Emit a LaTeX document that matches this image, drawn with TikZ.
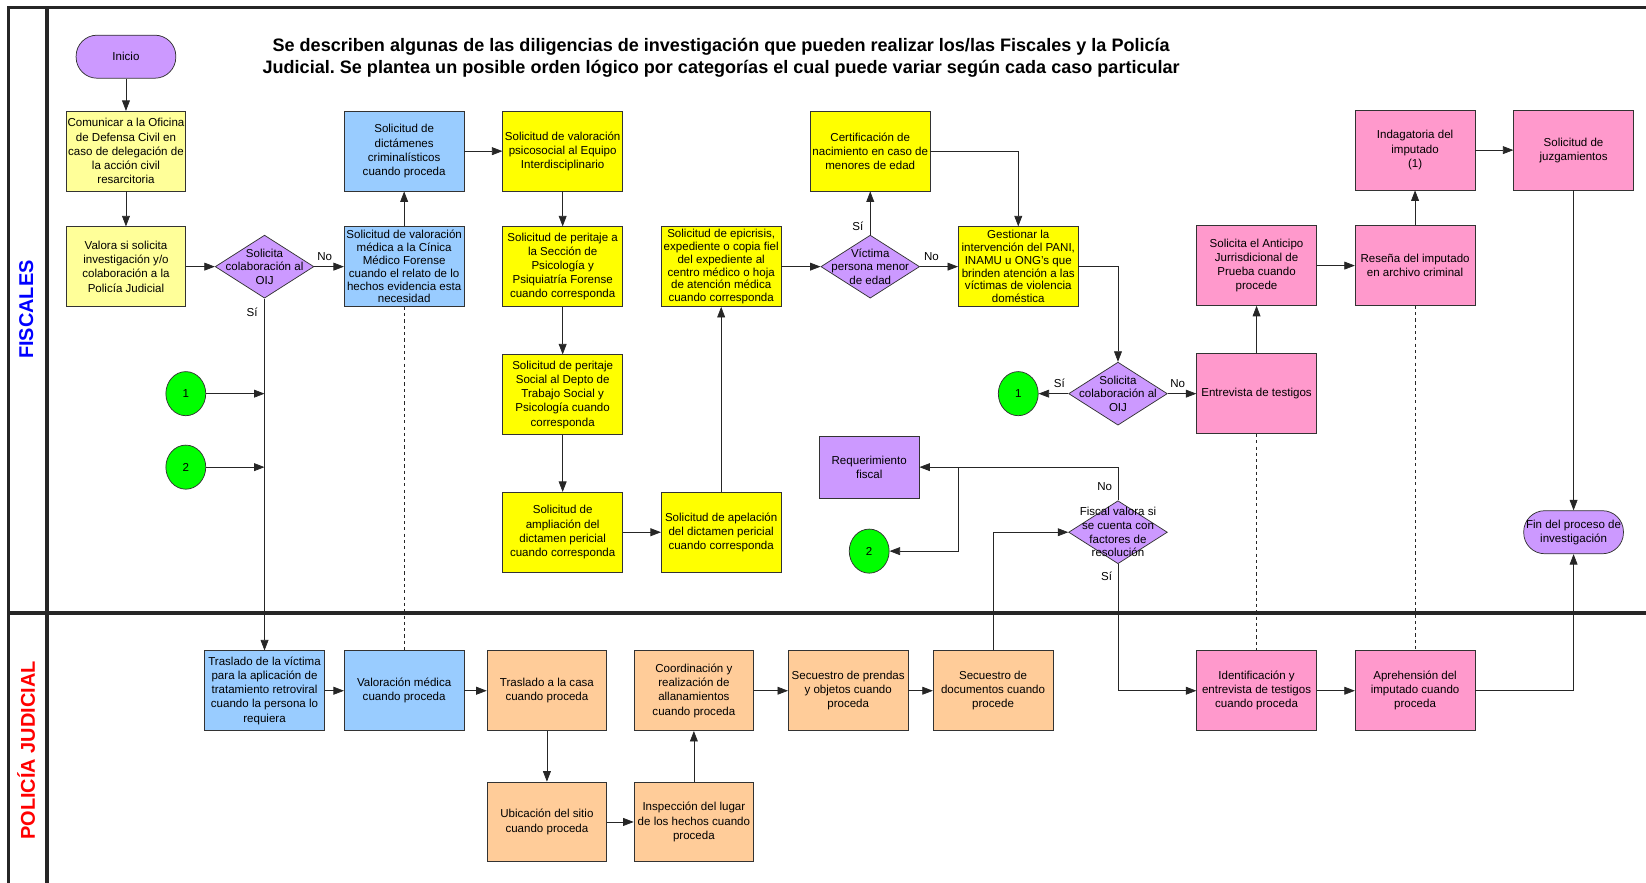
\documentclass[tikz,border=0pt]{standalone}
\usepackage{fontspec}
\setmainfont{Liberation Sans}
\usetikzlibrary{positioning, shapes.geometric, arrows.meta}
\frenchspacing

\definecolor{lila}{HTML}{CC99FF}
\definecolor{crema}{HTML}{FFFF99}
\definecolor{amarillo}{HTML}{FFFF00}
\definecolor{celeste}{HTML}{99CCFF}
\definecolor{durazno}{HTML}{FFCC99}
\definecolor{rosado}{HTML}{FF99CC}
\definecolor{verde}{HTML}{00FF00}

\tikzset{
  paso/.style={rectangle, draw=black!80, line width=0.7pt, minimum width=114pt, minimum height=76pt,
    inner sep=0pt, align=center, font=\fontsize{11}{13.5}\selectfont},
  apretado/.style={font=\fontsize{11}{12.2}\selectfont},
  decision/.style={diamond, draw=black!80, fill=lila, line width=0.7pt, minimum width=94pt,
    minimum height=60pt, inner sep=0pt},
  dtexto/.style={align=center, inner sep=0pt, font=\fontsize{11}{13}\selectfont},
  terminal/.style={rectangle, rounded corners=20pt, draw=black!80, fill=lila, line width=0.7pt,
    minimum width=95pt, minimum height=41pt, inner sep=0pt, align=center, font=\fontsize{11}{13}\selectfont},
  conector/.style={ellipse, draw=black!80, fill=verde, line width=0.7pt, minimum width=38pt,
    minimum height=42pt, inner sep=0pt, font=\fontsize{11}{13}\selectfont},
  rotulo/.style={font=\fontsize{11}{13}\selectfont},
  marco/.style={line width=3.5pt},
  carril/.style={rotate=90, font=\bfseries\fontsize{19}{20}\selectfont},
  titulo/.style={align=center, font=\bfseries\fontsize{17.2}{21}\selectfont}
}

\begin{document}
\begin{tikzpicture}[x=1pt, y=-1pt, >={Triangle[length=10pt, width=7.5pt]}, line width=0.7pt, draw=black!85]
  \useasboundingbox (0,0) rectangle (1568,841);
  % marco y carriles
  \draw[marco] (8,841) -- (8,7) -- (1568,7);
  \draw[marco] (45,7) -- (45,841);
  \draw[marco] (8,584) -- (1568,584);
  \node[carril, text=blue] (fis) at (25,295) {FISCALES};
  \node[carril, text=red] (pol) at (25,715) {POLICÍA JUDICIAL};
  \node[titulo] (tit) at (687,55) {Se describen algunas de las diligencias de investigación que pueden realizar los/las Fiscales y la Policía\\
    Judicial. Se plantea un posible orden lógico por categorías el cual puede variar según cada caso particular};

  % Fiscales
  \node[terminal] (inicio) at (120,54) {Inicio};
  \node[paso, fill=crema] (comun) [node distance=90pt, below of=inicio] {Comunicar a la Oficina\\de Defensa Civil en\\caso de delegación de\\la acción civil\\resarcitoria};
  \node[paso, fill=crema] (valora) [node distance=110pt, below of=comun] {Valora si solicita\\investigación y/o\\colaboración a la\\Policía Judicial};
  \node[decision, label={[dtexto, name=d1t]center:{Solicita\\colaboración al\\OIJ}}] (d1) [node distance=132pt, right of=valora] {};
  \node[paso, apretado, fill=celeste] (vmed) [node distance=133pt, right of=d1] {Solicitud de valoración\\médica a la Cínica\\Médico Forense\\cuando el relato de lo\\hechos evidencia esta\\necesidad};
  \node[paso, fill=celeste] (dict) [node distance=110pt, above of=vmed] {Solicitud de\\dictámenes\\criminalísticos\\cuando proceda};
  \node[paso, fill=amarillo] (psico) [node distance=151pt, right of=dict] {Solicitud de valoración\\psicosocial al Equipo\\Interdisciplinario};
  \node[paso, fill=amarillo] (perpsi) [node distance=110pt, below of=psico] {Solicitud de peritaje a\\la Sección de\\Psicología y\\Psiquiatría Forense\\cuando corresponda};
  \node[paso, fill=amarillo] (persoc) [node distance=122pt, below of=perpsi] {Solicitud de peritaje\\Social al Depto de\\Trabajo Social y\\Psicología cuando\\corresponda};
  \node[paso, fill=amarillo] (ampl) [node distance=131pt, below of=persoc] {Solicitud de\\ampliación del\\dictamen pericial\\cuando corresponda};
  \node[paso, fill=amarillo] (apel) [node distance=151pt, right of=ampl] {Solicitud de apelación\\del dictamen pericial\\cuando corresponda};
  \node[paso, apretado, fill=amarillo] (epic) [node distance=253pt, above of=apel] {Solicitud de epicrisis,\\expediente o copia fiel\\del expediente al\\centro médico o hoja\\de atención médica\\cuando corresponda};
  \node[decision, label={[dtexto, name=d2t]center:{Víctima\\persona menor\\de edad}}] (d2) [node distance=142pt, right of=epic] {};
  \node[paso, fill=amarillo] (cert) [node distance=110pt, above of=d2] {Certificación de\\nacimiento en caso de\\menores de edad};
  \node[paso, apretado, fill=amarillo] (gest) [node distance=141pt, right of=d2] {Gestionar la\\intervención del PANI,\\INAMU u ONG’s que\\brinden atención a las\\víctimas de violencia\\doméstica};
  \node[decision, label={[dtexto, name=d3t]center:{Solicita\\colaboración al\\OIJ}}] (d3) at (1065,375) {};
  \node[conector] (c1b) [node distance=95pt, left of=d3] {1};
  \node[paso, fill=rosado] (entr) [node distance=132pt, right of=d3] {Entrevista de testigos};
  \node[paso, fill=rosado] (antic) [node distance=122pt, above of=entr] {Solicita el Anticipo\\Jurrisdicional de\\Prueba cuando\\procede};
  \node[paso, fill=rosado] (resena) [node distance=151pt, right of=antic] {Reseña del imputado\\en archivo criminal};
  \node[paso, fill=rosado] (indag) [node distance=110pt, above of=resena] {Indagatoria del\\imputado\\(1)};
  \node[paso, fill=rosado] (juzg) [node distance=151pt, right of=indag] {Solicitud de\\juzgamientos};
  \node[terminal] (fin) [node distance=364pt, below of=juzg] {Fin del proceso de\\investigación};
  \node[paso, fill=lila, minimum width=95pt, minimum height=59pt] (req) at (828,445) {Requerimiento\\fiscal};
  \node[decision, label={[dtexto, name=d4t]center:{Fiscal valora si\\se cuenta con\\factores de\\resolución}}] (d4) at (1065,507) {};
  \node[conector] (c2b) at (828,525) {2};
  \node[conector] (c1a) at (177,375) {1};
  \node[conector] (c2a) at (177,445) {2};

  % Policia Judicial
  \node[paso, fill=celeste] (trasv) at (252,658) {Traslado de la víctima\\para la aplicación de\\tratamiento retroviral\\cuando la persona lo\\requiera};
  \node[paso, fill=celeste] (vmpj) [node distance=133pt, right of=trasv] {Valoración médica\\cuando proceda};
  \node[paso, fill=durazno] (casa) [node distance=136pt, right of=vmpj] {Traslado a la casa\\cuando proceda};
  \node[paso, fill=durazno] (ubic) [node distance=125pt, below of=casa] {Ubicación del sitio\\cuando proceda};
  \node[paso, fill=durazno] (insp) [node distance=140pt, right of=ubic] {Inspección del lugar\\de los hechos cuando\\proceda};
  \node[paso, fill=durazno] (allan) [node distance=125pt, above of=insp] {Coordinación y\\realización de\\allanamientos\\cuando proceda};
  \node[paso, fill=durazno] (secp) [node distance=147pt, right of=allan] {Secuestro de prendas\\y objetos cuando\\proceda};
  \node[paso, fill=durazno] (secd) [node distance=138pt, right of=secp] {Secuestro de\\documentos cuando\\procede};
  \node[paso, fill=rosado] (ident) at (1197,658) {Identificación y\\entrevista de testigos\\cuando proceda};
  \node[paso, fill=rosado] (apre) [node distance=151pt, right of=ident] {Aprehensión del\\imputado cuando\\proceda};

  \path[->, draw=black!85]
  (inicio) edge (comun)
  (comun) edge (valora)
  (valora) edge (d1)
  (d1) edge node[rotulo, above=2pt, pos=0.35] {No} (vmed)
  (d1) edge node[rotulo, left=3pt, pos=0.04] {Sí} (trasv)
  (vmed) edge (dict)
  (dict) edge (psico)
  (psico) edge (perpsi)
  (perpsi) edge (persoc)
  (persoc) edge (ampl)
  (ampl) edge (apel)
  (apel) edge (epic)
  (epic) edge (d2)
  (d2) edge node[rotulo, left=3pt, pos=0.2] {Sí} (cert)
  (d2) edge node[rotulo, above=2pt, pos=0.3] {No} (gest)
  (d3) edge node[rotulo, above=2pt, pos=0.3] {Sí} (c1b)
  (d3) edge node[rotulo, above=2pt, pos=0.35] {No} (entr)
  (entr) edge (antic)
  (antic) edge (resena)
  (resena) edge (indag)
  (indag) edge (juzg)
  (juzg) edge (fin)
  (trasv) edge (vmpj)
  (vmpj) edge (casa)
  (casa) edge (ubic)
  (ubic) edge (insp)
  (insp) edge (allan)
  (allan) edge (secp)
  (secp) edge (secd)
  (ident) edge (apre);

  \draw[->] (c1a) -- (c1a -| d1.south);
  \draw[->] (c2a) -- (c2a -| d1.south);
  \draw[->] (cert.east) -| (gest.north);
  \draw[->] (gest.east) -| (d3.north);
  \draw[->] (secd.north) |- (d4.west);
  \draw[->] (d4.north) |- node[rotulo, left=2pt, pos=0.2] {No} (req.east);
  \coordinate (ram) at ([xshift=37pt]req.east);
  \draw[->] (ram) |- (c2b.east);
  \draw[->] (d4.south) |- node[rotulo, left=2pt, pos=0.05] {Sí} (ident.west);
  \draw[->] (apre.east) -| (fin.south);

  \draw[dashed, thin] (vmed.south) -- (vmpj.north);
  \draw[dashed, thin] (entr.south) -- (ident.north);
  \draw[dashed, thin] (resena.south) -- (apre.north);
\end{tikzpicture}
\end{document}
